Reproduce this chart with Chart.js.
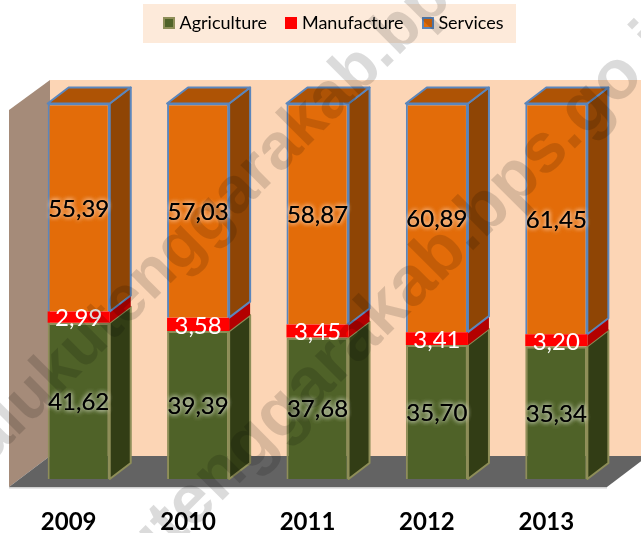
<!DOCTYPE html>
<html><head><meta charset="utf-8">
<style>html,body{margin:0;padding:0;background:#fff}canvas{display:block}</style>
<script src="https://cdn.jsdelivr.net/npm/chart.js@4"></script></head>
<body><canvas id="c" width="641" height="533"></canvas>
<script>
const categories=['2009','2010','2011','2012','2013'];
const agriculture=[41.62,39.39,37.68,35.70,35.34];
const manufacture=[2.99,3.58,3.45,3.41,3.20];
const services=[55.39,57.03,58.87,60.89,61.45];
const watermark='malukutenggarakab.bps.go.id';
const DX=21,DY=16;
const FONT='Lato, "Open Sans", sans-serif';
const faces=[
 {side:'#8F4505',top:'#AE5305',line:'#5B86BC',labelColor:'#000',glow:'#FCD5B5'},
 {side:'#B30000',top:'#B30000',line:'#B30000',labelColor:'#fff',glow:'#FF0000'},
 {side:'#323D15',top:'#323D15',line:'#8E8E58',labelColor:'#000',glow:'#D8DDC8'}];
const styleMap=[2,1,0];
function swatch(fill,line){
 const s=document.createElement('canvas');s.width=12;s.height=12;
 const g=s.getContext('2d');g.fillStyle=line;g.fillRect(0,0,12,12);g.fillStyle=fill;g.fillRect(2,2,8,8);
 return s;
}
const scene={
 id:'scene',
 beforeLayout(ch){
  const L=ch.legend;
  if(!L.__p){const f=L.fit;L.fit=function(){f.call(this);this.height=103.5;};L.__p=true;}
 },
 afterLayout(ch){
  const L=ch.legend;L.top-=9;L.bottom-=9;L.left+=18;L.right+=18;
 },
 beforeDraw(ch){
  const g=ch.ctx,a=ch.chartArea;
  g.save();
  g.fillStyle='#FDEADA';g.fillRect(143,4,373,39);
  const back=a.left+31,wallTop=a.top-23.5,wallBot=a.bottom-23,fx=a.left-10,fy=a.bottom+8;
  g.fillStyle='#FCD5B5';g.fillRect(back,wallTop,641-back,wallBot-wallTop);
  g.fillStyle='#A58B79';g.beginPath();g.moveTo(fx,wallTop+30);g.lineTo(back,wallTop);g.lineTo(back,wallBot);g.lineTo(fx,fy);g.closePath();g.fill();
  g.fillStyle='#636363';g.beginPath();g.moveTo(fx,fy);g.lineTo(back,wallBot);g.lineTo(648,wallBot);g.lineTo(607,fy);g.closePath();g.fill();
  g.fillStyle='#D0D0D0';g.fillRect(fx,fy,607-fx,1.5);
  g.restore();
 },
 beforeDatasetsDraw(ch){
  const g=ch.ctx;
  g.save();
  ch.data.datasets.forEach((ds,i)=>{
   const f=faces[styleMap[i]];
   ch.getDatasetMeta(i).data.forEach(b=>{
    const r=b.x+b.width/2,l=b.x-b.width/2,t=b.y,bo=b.base;
    g.lineWidth=2;g.strokeStyle=f.line;g.lineJoin='round';
    g.fillStyle=f.side;g.beginPath();g.moveTo(r,t);g.lineTo(r+DX,t-DY);g.lineTo(r+DX,bo-DY);g.lineTo(r,bo);g.closePath();g.fill();
    if(i!==1){g.stroke();}
    if(i===2){
     g.fillStyle=f.top;g.beginPath();g.moveTo(l,t);g.lineTo(l+DX,t-DY);g.lineTo(r+DX,t-DY);g.lineTo(r,t);g.closePath();g.fill();g.stroke();
    }
   });
  });
  g.restore();
 },
 afterDatasetsDraw(ch){
  const g=ch.ctx;
  g.save();g.textAlign='center';g.textBaseline='middle';g.font='24px '+FONT;
  ch.data.datasets.forEach((ds,i)=>{
   const f=faces[styleMap[i]];
   ch.getDatasetMeta(i).data.forEach((b,k)=>{
    const s=ds.data[k].toFixed(2).replace('.',',');
    const cy=(b.y+b.base)/2+1.5;
    g.shadowColor=f.glow;g.shadowBlur=i===1?0:5;g.fillStyle=f.labelColor;
    g.fillText(s,b.x,cy);
    if(i!==1)g.fillText(s,b.x,cy);
   });
  });
  g.restore();
 },
 afterDraw(ch){
  const g=ch.ctx;
  g.save();
  g.fillStyle='rgba(0,0,0,0.14)';g.textBaseline='alphabetic';g.textAlign='left';
  const pre=watermark.slice(0,watermark.indexOf('.'));
  [[387,60,65],[473,243,70]].forEach(p=>{
   g.font='bold '+p[2]+'px "Liberation Sans", sans-serif';
   const w=g.measureText(pre).width;
   g.save();g.translate(p[0],p[1]);g.rotate(-Math.PI/4);g.fillText(watermark,-w-p[2]*0.139,5);g.restore();
  });
  g.restore();
 }
};
new Chart(document.getElementById('c'),{
 type:'bar',
 data:{labels:categories,datasets:[
  {label:'Agriculture',data:agriculture,backgroundColor:'#4F6228',borderColor:'#8E8E58',borderWidth:2},
  {label:'Manufacture',data:manufacture,backgroundColor:'#FF0000',borderColor:'#FF0000',borderWidth:0},
  {label:'Services',data:services,backgroundColor:'#E36C09',borderColor:'#5B86BC',borderWidth:2}]},
 options:{
  responsive:false,animation:false,
  datasets:{bar:{barPercentage:0.52,categoryPercentage:1}},
  layout:{padding:{left:19,right:25,top:0,bottom:0}},
  scales:{
   x:{stacked:true,grid:{display:false},border:{display:false},
      afterFit(s){s.height=54;},
      ticks:{color:'#000',font:{family:FONT,size:24,weight:'bold'},padding:21,maxRotation:0,labelOffset:-10}},
   y:{stacked:true,display:false,min:0,max:100}
  },
  plugins:{
   tooltip:{enabled:false},
   legend:{position:'top',labels:{color:'#000',font:{family:FONT,size:18},boxWidth:3,boxHeight:12,padding:23,usePointStyle:true,
     generateLabels(ch){return ch.data.datasets.map((d,i)=>({text:d.label,datasetIndex:i,fontColor:'#000',hidden:false,pointStyle:swatch(d.backgroundColor,d.borderColor)}));}}}
  }
 },
 plugins:[scene]
});
</script></body></html>
